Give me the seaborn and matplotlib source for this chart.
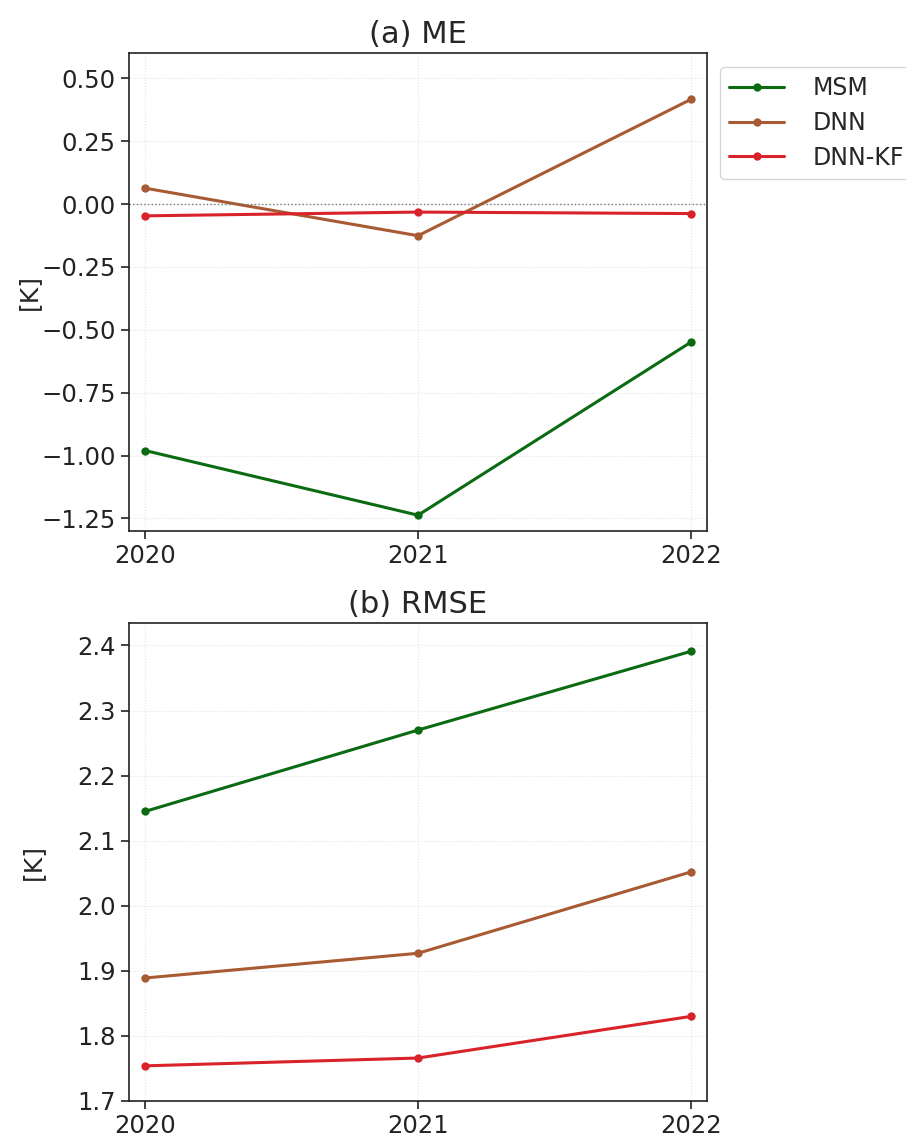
import numpy as np
import pandas as pd
import matplotlib
matplotlib.use("Agg")
import matplotlib.pyplot as plt
import seaborn as sns

years = [2020, 2021, 2022]
models = ["MSM", "DNN", "DNN-KF"]
me_msm = [-0.98, -1.237, -0.549]
me_dnn = [0.063, -0.126, 0.416]
me_dnnkf = [-0.047, -0.032, -0.038]
rmse_msm = [2.145, 2.270, 2.391]
rmse_dnn = [1.889, 1.927, 2.052]
rmse_dnnkf = [1.754, 1.766, 1.830]
me_ticks = [-1.25, -1.0, -0.75, -0.5, -0.25, 0.0, 0.25, 0.5]
rmse_ticks = [1.7, 1.8, 1.9, 2.0, 2.1, 2.2, 2.3, 2.4]
colors = {"MSM": "#0b6b12", "DNN": "#a85a32", "DNN-KF": "#d9232a"}

def long(msm, dnn, kf):
    rows = []
    for name, vals in zip(models, [msm, dnn, kf]):
        for y, v in zip(years, vals):
            rows.append({"year": y, "model": name, "value": v})
    return pd.DataFrame(rows)

df_me = long(me_msm, me_dnn, me_dnnkf)
df_rmse = long(rmse_msm, rmse_dnn, rmse_dnnkf)

sns.set_theme(style="ticks")
plt.rcParams["font.family"] = ["DejaVu Sans"]
plt.rcParams["axes.unicode_minus"] = True

fig = plt.figure(figsize=(9.06, 11.44), dpi=100)
ax1 = fig.add_axes([0.1424, 0.5358, 0.638, 0.4178])
ax2 = fig.add_axes([0.1424, 0.0376, 0.638, 0.4181])

for ax, df, title in [(ax1, df_me, "(a) ME"), (ax2, df_rmse, "(b) RMSE")]:
    sns.lineplot(data=df, x="year", y="value", hue="model", hue_order=models,
                 palette=colors, marker="o", markersize=6, markeredgewidth=0,
                 linewidth=2.2, ax=ax, legend=(ax is ax1))
    ax.set_xticks(years)
    ax.set_xticklabels([str(y) for y in years])
    ax.set_xlim(2020 - 0.059, 2022 + 0.059)
    ax.set_xlabel("")
    ax.set_ylabel("[K]", fontsize=18)
    ax.set_title(title, fontsize=22, pad=7)
    ax.tick_params(labelsize=17.5, length=6, width=1.2, colors="#222222")
    ax.grid(True, linestyle=":", linewidth=0.8, color="#e4e4e4")
    for s in ax.spines.values():
        s.set_linewidth(1.2)
        s.set_color("#222222")

ax1.yaxis.set_label_coords(-0.152, 0.5)
ax2.yaxis.set_label_coords(-0.145, 0.5)

ax1.axhline(0, color="#777777", linestyle=":", linewidth=1)
ax1.set_ylim(-1.3, 0.6)
ax1.set_yticks(me_ticks)
ax1.set_yticklabels([f"{v:.2f}".replace("-", "\u2212") for v in me_ticks])
ax2.set_ylim(1.7, 2.435)
ax2.set_yticks(rmse_ticks)

leg = ax1.legend(loc="upper left", bbox_to_anchor=(1.0225, 0.971), borderaxespad=0,
                 fontsize=17, frameon=True, handlelength=2.3, handletextpad=1.2,
                 labelspacing=0.45)
leg.get_frame().set_edgecolor("#cccccc")

fig.savefig("out.png", dpi=100)
